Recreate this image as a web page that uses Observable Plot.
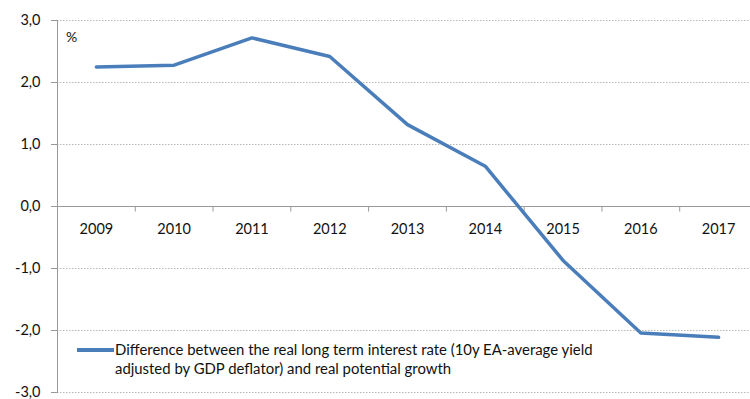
<!DOCTYPE html>
<html>
<head>
<meta charset="utf-8">
<script src="https://cdn.jsdelivr.net/npm/d3@7"></script>
<script src="https://cdn.jsdelivr.net/npm/@observablehq/plot@0.6"></script>
<style>
  html, body { margin: 0; padding: 0; background: #fff; }
  #wrap { position: relative; width: 750px; height: 399px; overflow: hidden; font-family: Lato, "Open Sans", sans-serif; }
  #unit { position: absolute; left: 66px; top: 28px; font-size: 14px; color: #111; }
  #legend { position: absolute; left: 77px; top: 340px; display: flex; align-items: flex-start; font-size: 14.9px; line-height: 19px; color: #111; }
  #legend .sw { width: 37px; height: 3.5px; background: #4a7ebb; margin-top: 8px; margin-right: 1px; flex: none; }
</style>
</head>
<body>
<div id="wrap">
  <div id="chart"></div>
  <div id="unit">%</div>
  <div id="legend"><div class="sw"></div><div>Difference between the real long term interest rate (10y EA-average yield<br>adjusted by GDP deflator) and real potential growth</div></div>
</div>
<script>
const years = [2009, 2010, 2011, 2012, 2013, 2014, 2015, 2016, 2017];
const values = [2.25, 2.28, 2.72, 2.42, 1.32, 0.65, -0.87, -2.04, -2.11];
const yTicks = [-3, -2, -1, 0, 1, 2, 3];

const data = years.map((y, i) => ({year: y, value: values[i]}));
const boundaries = years.map(y => y + 0.5);

const chart = Plot.plot({
  width: 750,
  height: 399,
  marginLeft: 57,
  marginRight: 0,
  marginTop: 20,
  marginBottom: 7,
  style: {fontFamily: "Lato, 'Open Sans', sans-serif", fontSize: "14.5px", color: "#111", background: "#fff"},
  x: {type: "linear", domain: [years[0] - 0.5, years[years.length - 1] + 0.5], range: [57, 757], axis: null},
  y: {domain: [-3, 3]},
  marks: [
    Plot.ruleY(yTicks.filter(d => d !== 0), {stroke: "#b8b8b8", strokeWidth: 1, strokeDasharray: "1.5,1.5"}),
    Plot.axisY({ticks: yTicks, tickFormat: d => d.toFixed(1).replace(".", ","), tickSize: 6, tickPadding: 11, stroke: "#999", fill: "#111", fontSize: 14.5, label: null}),
    Plot.frame({anchor: "left", stroke: "#999"}),
    Plot.ruleY([0], {stroke: "#999", strokeWidth: 1}),
    Plot.ruleX(boundaries, {x: d => d, y1: 0, y2: -0.09, stroke: "#999"}),
    Plot.text(years, {x: d => d, y: 0, dy: 23, text: d => String(d), fill: "#111", fontSize: 14.5}),
    Plot.line(data, {x: "year", y: "value", stroke: "#4a7ebb", strokeWidth: 3.5, strokeLinejoin: "miter"})
  ]
});
document.getElementById("chart").appendChild(chart);
</script>
</body>
</html>
